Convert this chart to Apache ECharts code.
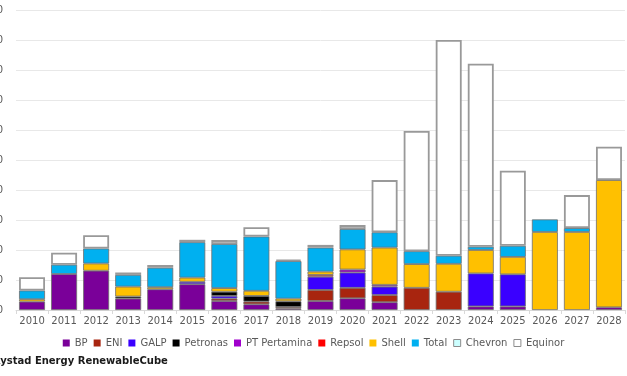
<!DOCTYPE html>
<html>
<head>
<meta charset="utf-8">
<script src="https://cdn.jsdelivr.net/npm/echarts@6/dist/echarts.min.js"></script>
<style>html,body{margin:0;padding:0;background:#fff}#c{width:627px;height:376px}</style>
</head>
<body>
<div id="c"></div>
<script>
var years = ['2010','2011','2012','2013','2014','2015','2016','2017','2018','2019','2020','2021','2022','2023','2024','2025','2026','2027','2028'];
var yTicks = [0,100,200,300,400,500,600,700,800,900,1000];
var BP          = [28,120,131,38,69,86,30,19,5,30,39,26,0,0,12,12,0,0,9];
var ENI         = [0,0,0,0,0,0,8,9,5,37,35,24,74,61,0,0,0,0,0];
var GALP        = [0,0,0,0,0,8,9,0,0,44,51,28,0,0,110,107,0,0,0];
var Petronas    = [0,0,0,7,0,0,14,19,19,0,0,0,0,0,0,0,0,0,0];
var PTPertamina = [0,0,0,0,0,0,0,0,0,0,10,6,0,0,0,0,0,0,0];
var Repsol      = [0,0,0,0,0,0,0,0,0,6,0,0,0,0,0,0,0,0,0];
var Shell       = [8,0,24,33,7,14,12,17,9,11,67,124,79,93,78,58,260,260,424];
var Total       = [29,31,50,39,65,118,147,181,125,80,68,51,43,27,11,37,42,13,0];
var Chevron     = [0,0,0,0,0,0,0,0,0,0,0,0,0,0,0,0,0,0,0];
var Equinor     = [44,40,44,8,9,8,13,31,5,9,13,174,401,719,610,250,0,110,111];

var defs = [
  ['BP', BP, '#7a0099'],
  ['ENI', ENI, '#a8250f'],
  ['GALP', GALP, '#3a00ff'],
  ['Petronas', Petronas, '#000000'],
  ['PT Pertamina', PTPertamina, '#a000cc'],
  ['Repsol', Repsol, '#ff0000'],
  ['Shell', Shell, '#ffc000'],
  ['Total', Total, '#00b0f0'],
  ['Chevron', Chevron, '#ccffff'],
  ['Equinor', Equinor, '#ffffff']
];
function isHollow(n){ return n === 'Equinor' || n === 'Chevron'; }
var series = defs.map(function(d){
  var hollow = isHollow(d[0]);
  return {
    name: d[0], type: 'bar', stack: 'all',
    barCategoryGap: '19%',
    data: d[1].map(function(v){ return v === 0 ? null : v; }),
    itemStyle: {color: d[2], borderColor: hollow ? '#999999' : '#6f6f6f', borderWidth: hollow ? 1.8 : 0.8}
  };
});
var chart = echarts.init(document.getElementById('c'), null, {renderer:'canvas'});
chart.setOption({
  animation: false,
  grid: {left: 16, right: 2, top: 10, bottom: 66, containLabel: false, outerBoundsMode: 'none'},
  xAxis: {
    type: 'category', data: years,
    axisLine: {lineStyle: {color: '#d9d9d9'}},
    axisTick: {show: true, length: 4, lineStyle: {color: '#d9d9d9'}},
    axisLabel: {color: '#595959', fontSize: 10, fontFamily: 'DejaVu Sans', margin: 6, interval: 0}
  },
  yAxis: {
    type: 'value', min: yTicks[0], max: yTicks[yTicks.length-1], interval: yTicks[1]-yTicks[0],
    axisLine: {show: false}, axisTick: {show: false},
    splitLine: {lineStyle: {color: '#e8e8e8', width: 1}},
    axisLabel: {color: '#595959', fontSize: 10, fontFamily: 'DejaVu Sans', margin: 13}
  },
  legend: {
    top: 333, left: 'center', itemWidth: 7, itemHeight: 7, itemGap: 6, icon: 'rect',
    textStyle: {color: '#595959', fontSize: 10, fontFamily: 'DejaVu Sans'},
    data: defs.map(function(d){
      return isHollow(d[0])
        ? {name: d[0], itemStyle: {borderColor: '#8c8c8c', borderWidth: 1}}
        : {name: d[0], itemStyle: {borderWidth: 0}};
    })
  },
  graphic: [{
    type: 'text', left: -7, top: 356,
    style: {text: 'Rystad Energy RenewableCube', fill: '#1a1a1a', font: 'bold 10px "DejaVu Sans"'}
  }],
  series: series
});
</script>
</body>
</html>
